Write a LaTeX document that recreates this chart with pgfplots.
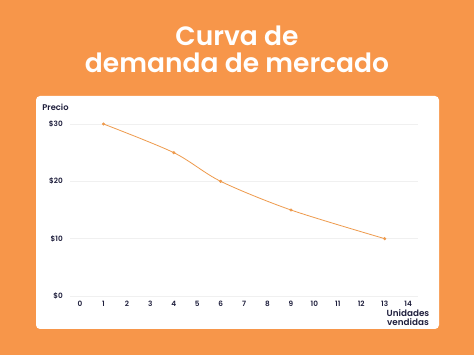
\documentclass[border=0pt]{standalone}
\usepackage{pgfplots}
\pgfplotsset{compat=1.18}
\usepackage{fontspec}
\setmainfont{Poppins}[BoldFont={* SemiBold}]
\definecolor{bgor}{HTML}{F7964A}
\definecolor{lineor}{HTML}{EE9A4C}
\definecolor{navy}{HTML}{1E1E3C}
\definecolor{gridc}{HTML}{F0F0F0}
\begin{document}
\begin{tikzpicture}[x=1pt,y=1pt]
\fill[bgor] (0,0) rectangle (474,355);
\fill[white, rounded corners=4pt] (36,26) rectangle (439,259);
\node[anchor=base, text=white, font=\fontsize{26.5}{30}\selectfont\bfseries] at (237,309) {Curva de};
\node[anchor=base, text=white, font=\fontsize{26.5}{30}\selectfont\bfseries] at (237,282) {demanda de mercado};
\begin{axis}[
  at={(70pt,59pt)}, anchor=south west,
  scale only axis,
  width=348.2pt, height=180.6pt,
  xmin=-0.43, xmax=14.43,
  ymin=0, ymax=31.5,
  xtick={0,...,14},
  ytick={0,10,20,30},
  yticklabels={\$0,\$10,\$20,\$30},
  axis line style={draw=none},
  tick style={draw=none},
  ymajorgrids=true,
  major grid style={gridc, line width=0.6pt},
  /pgf/number format/assume math mode=true,
  ticklabel style={font=\fontsize{7.3}{9}\selectfont\bfseries, text=navy, inner sep=0pt},
  xticklabel style={anchor=center, yshift=-8pt},
  yticklabel style={anchor=east, xshift=-7pt},
  clip=false,
]
\addplot[lineor, line width=0.8pt, smooth, mark=*, mark size=1.1pt, mark options={fill=lineor, draw=lineor}]
  coordinates {(1,30) (4,25) (6,20) (9,15) (13,10)};
\end{axis}
\node[font=\fontsize{8.3}{10}\selectfont\bfseries, text=navy] at (55.5,247.5) {Precio};
\node[font=\fontsize{8.8}{10}\selectfont\bfseries, text=navy, align=center] at (408,37.5) {Unidades\\[-1.5pt]vendidas};
\end{tikzpicture}
\end{document}
